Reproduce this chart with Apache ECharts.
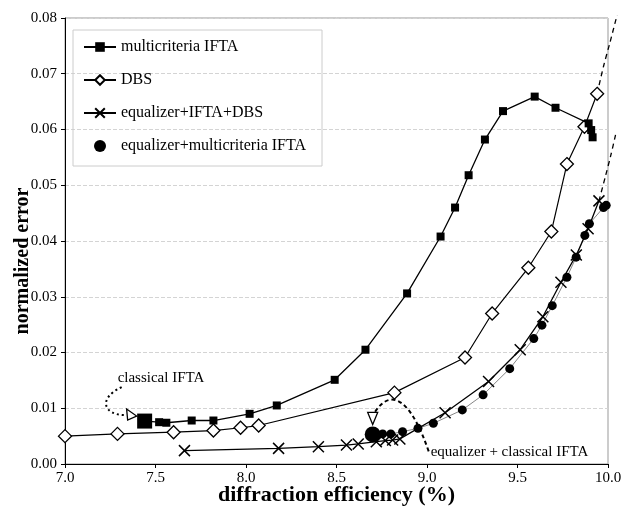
<!DOCTYPE html>
<html>
<head>
<meta charset="utf-8">
<script src="https://cdn.jsdelivr.net/npm/echarts@6/dist/echarts.min.js"></script>
<style>
  html, body { margin: 0; padding: 0; background: #fff; }
  #chart { width: 623px; height: 516px; }
</style>
</head>
<body>
<div id="chart"></div>
<script>
// values
const xTicks = [7.0, 7.5, 8.0, 8.5, 9.0, 9.5, 10.0];
const yTicks = [0.00, 0.01, 0.02, 0.03, 0.04, 0.05, 0.06, 0.07, 0.08];

const multiEff = [7.44, 7.52, 7.56, 7.70, 7.82, 8.02, 8.17, 8.49, 8.66, 8.89, 9.075, 9.155, 9.23, 9.32, 9.42, 9.595, 9.71, 9.893, 9.907, 9.915];
const multiErr = [0.0077, 0.0075, 0.0074, 0.0078, 0.0078, 0.0090, 0.0105, 0.0151, 0.0205, 0.0306, 0.0408, 0.0460, 0.0518, 0.0582, 0.0633, 0.0659, 0.0639, 0.0611, 0.0599, 0.0586];

const dbsEff = [7.0, 7.29, 7.60, 7.82, 7.97, 8.07, 8.82, 9.21, 9.36, 9.56, 9.687, 9.773, 9.87, 9.94];
const dbsErr = [0.0050, 0.0054, 0.0057, 0.0060, 0.0065, 0.0069, 0.0128, 0.0191, 0.0270, 0.0352, 0.0417, 0.0538, 0.0605, 0.0664];

const eqDbsEff = [7.66, 8.18, 8.40, 8.555, 8.62, 8.72, 8.77, 8.81, 8.85, 9.10, 9.34, 9.515, 9.64, 9.74, 9.825, 9.89, 9.95];
const eqDbsErr = [0.0024, 0.0028, 0.0031, 0.0034, 0.0036, 0.0040, 0.0042, 0.0043, 0.0045, 0.0092, 0.0148, 0.0205, 0.0264, 0.0326, 0.0375, 0.0422, 0.0472];

const eqMultiEff = [8.70, 8.755, 8.80, 8.865, 8.95, 9.035, 9.195, 9.31, 9.457, 9.59, 9.635, 9.692, 9.773, 9.824, 9.872, 9.897, 9.975, 9.99];
const eqMultiErr = [0.0053, 0.0054, 0.0054, 0.0058, 0.0064, 0.0073, 0.0097, 0.0124, 0.0171, 0.0225, 0.0249, 0.0284, 0.0335, 0.0371, 0.0410, 0.0431, 0.0460, 0.0464];

// dashed extrapolations past the right edge of the axis
const dbsExtEff = [9.94, 9.975, 10.01, 10.05];
const dbsExtErr = [0.0664, 0.0713, 0.0755, 0.0805];
const eqExtEff = [9.95, 9.985, 10.015, 10.045];
const eqExtErr = [0.0472, 0.0515, 0.0553, 0.0595];

const zip = (xs, ys) => xs.map((x, i) => [x, ys[i]]);

const serif = 'Liberation Serif';
const chart = echarts.init(document.getElementById('chart'));

const crossPath = 'path://M0,0L10,10M10,0L0,10';

const option = {
  animation: false,
  backgroundColor: '#fff',
  textStyle: { fontFamily: serif, color: '#000' },
  grid: {
    left: 65, right: 15, top: 18, bottom: 52,
    containLabel: false, outerBoundsMode: 'none',
    show: true, borderColor: '#999', borderWidth: 1
  },
  legend: {
    orient: 'vertical',
    left: 73, top: 30,
    padding: [9, 16, 12, 10],
    borderColor: '#ccc', borderWidth: 1,
    itemWidth: 32, itemHeight: 12, itemGap: 17,
    textStyle: { fontFamily: serif, fontSize: 16, color: '#000' },
    data: ['multicriteria IFTA', 'DBS', 'equalizer+IFTA+DBS', 'equalizer+multicriteria IFTA']
  },
  xAxis: {
    type: 'value', min: 7, max: 10, interval: 0.5,
    name: 'diffraction efficiency (%)', nameLocation: 'middle', nameGap: 20,
    nameMoveOverlap: false,
    nameTextStyle: { fontFamily: serif, fontSize: 22, fontWeight: 'bold', color: '#000', verticalAlign: 'top' },
    axisLine: { lineStyle: { color: '#000', width: 1 } },
    axisTick: { show: true, length: 4, lineStyle: { color: '#000' } },
    axisLabel: { fontFamily: serif, fontSize: 15, color: '#000', margin: 7, formatter: v => v.toFixed(1) },
    splitLine: { show: false }
  },
  yAxis: {
    type: 'value', min: 0, max: 0.08, interval: 0.01,
    name: 'normalized error', nameLocation: 'middle', nameGap: 32,
    nameMoveOverlap: false,
    nameTextStyle: { fontFamily: serif, fontSize: 20, fontWeight: 'bold', color: '#000', padding: [0, 40, 0, 0] },
    axisLine: { show: true, lineStyle: { color: '#000', width: 1 } },
    axisTick: { show: true, length: 4, lineStyle: { color: '#000' } },
    axisLabel: { fontFamily: serif, fontSize: 15, color: '#000', margin: 8, formatter: v => v.toFixed(2) },
    splitLine: { show: true, lineStyle: { color: '#d4d4d4', type: 'dashed', width: 1 } }
  },
  series: [
    {
      name: 'multicriteria IFTA', type: 'line',
      data: zip(multiEff, multiErr),
      symbol: 'rect',
      symbolSize: (v, p) => p.dataIndex === 0 ? 15 : 8,
      lineStyle: { color: '#000', width: 1.3 },
      itemStyle: { color: '#000' },
      z: 4
    },
    {
      name: 'DBS', type: 'line',
      data: zip(dbsEff, dbsErr),
      symbol: 'diamond', symbolSize: 13,
      lineStyle: { color: '#000', width: 1.2 },
      itemStyle: { color: '#fff', borderColor: '#000', borderWidth: 1.3 },
      z: 3
    },
    {
      name: 'equalizer+IFTA+DBS', type: 'line',
      data: zip(eqDbsEff, eqDbsErr),
      symbol: crossPath, symbolSize: 11,
      lineStyle: { color: '#000', width: 1.3 },
      itemStyle: { color: 'none', borderColor: '#000', borderWidth: 1.5 },
      z: 3
    },
    {
      name: 'eqMultiLine', type: 'line',
      data: zip(eqMultiEff, eqMultiErr),
      showSymbol: false, symbol: 'none',
      lineStyle: { color: '#777', width: 0.9 },
      z: 2
    },
    {
      name: 'equalizer+multicriteria IFTA', type: 'scatter',
      data: zip(eqMultiEff, eqMultiErr),
      symbol: 'circle',
      symbolSize: (v, p) => p.dataIndex === 0 ? 16 : 9,
      itemStyle: { color: '#000', opacity: 1 },
      z: 5
    }
  ]
};

chart.setOption(option);

const toPx = (x, y) => chart.convertToPixel({ gridIndex: 0 }, [x, y]);

// annotations placed relative to the highlighted markers
const sq = toPx(multiEff[0], multiErr[0]);
const ci = toPx(eqMultiEff[0], eqMultiErr[0]);

chart.setOption({
  graphic: [
    {
      type: 'polyline', silent: true,
      shape: { points: dbsExtEff.map((x, i) => toPx(x, dbsExtErr[i])), smooth: 0.3 },
      style: { stroke: '#000', lineWidth: 1.3, lineDash: [5, 4], fill: 'none' }
    },
    {
      type: 'polyline', silent: true,
      shape: { points: eqExtEff.map((x, i) => toPx(x, eqExtErr[i])), smooth: 0.3 },
      style: { stroke: '#000', lineWidth: 1.3, lineDash: [5, 4], fill: 'none' }
    },
    {
      type: 'text', left: sq[0] - 27, top: sq[1] - 51,
      style: { text: 'classical IFTA', font: '15px "Liberation Serif"', fill: '#000' }
    },
    {
      type: 'bezierCurve',
      shape: { x1: sq[0] - 23, y1: sq[1] - 34, cpx1: sq[0] - 48, cpy1: sq[1] - 22, cpx2: sq[0] - 40, cpy2: sq[1] - 6, x2: sq[0] - 20, y2: sq[1] - 6 },
      style: { stroke: '#000', lineWidth: 2, lineDash: [2, 3], fill: 'none' }
    },
    {
      type: 'polygon',
      shape: { points: [[sq[0] - 18, sq[1] - 12], [sq[0] - 17, sq[1] - 1], [sq[0] - 8, sq[1] - 5]] },
      style: { stroke: '#000', lineWidth: 1.3, fill: '#fff' }
    },
    {
      type: 'text', left: ci[0] + 58, top: ci[1] + 10,
      style: { text: 'equalizer + classical IFTA', font: '15px "Liberation Serif"', fill: '#000' }
    },
    {
      type: 'bezierCurve',
      shape: { x1: ci[0] + 56, y1: ci[1] + 17, cpx1: ci[0] + 40, cpy1: ci[1] - 30, cpx2: ci[0] + 20, cpy2: ci[1] - 50, x2: ci[0] + 2, y2: ci[1] - 22 },
      style: { stroke: '#000', lineWidth: 2, lineDash: [4, 3], fill: 'none' }
    },
    {
      type: 'polygon',
      shape: { points: [[ci[0] - 5, ci[1] - 22], [ci[0] + 5, ci[1] - 22], [ci[0], ci[1] - 10]] },
      style: { stroke: '#000', lineWidth: 1.3, fill: '#fff' }
    }
  ]
});

window.addEventListener('resize', () => chart.resize());
</script>
</body>
</html>
